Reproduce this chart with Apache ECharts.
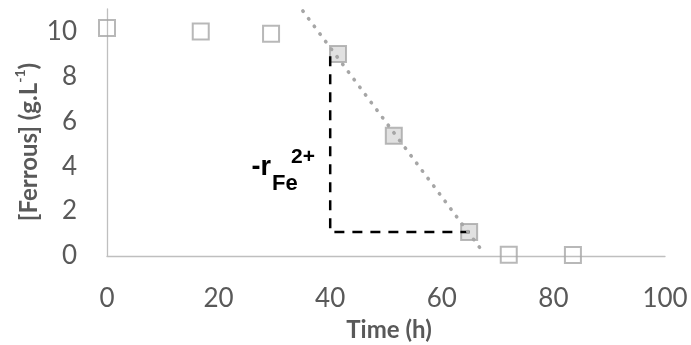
<!DOCTYPE html>
<html>
<head>
<meta charset="utf-8">
<script src="https://cdn.jsdelivr.net/npm/echarts@6/dist/echarts.min.js"></script>
<style>html,body{margin:0;padding:0;background:#fff;}#c{width:691px;height:345px;}</style>
</head>
<body>
<div id="c"></div>
<script>
// Data
const hollowTimes = [0, 16.8, 29.4, 72.0, 83.5];
const hollowFerrous = [10.15, 10.0, 9.9, 0.06, 0.05];
const fitTimes = [41.4, 51.4, 64.9];
const fitFerrous = [9.0, 5.35, 1.07];
const trendTimes = [35.1, 67.2];
const trendFerrous = [10.91, 0.24];
const rateTimes = [40, 40, 65];
const rateFerrous = [8.9, 1.07, 1.07];
const xAxisRange = [0, 100, 20];
const yAxisRange = [0, 11, 2];

const zip = (a, b) => a.map((v, i) => [v, b[i]]);
const gray = '#595959';
const tickFont = 'Lato, "Open Sans", sans-serif';
const narrow = '"Liberation Sans Narrow", "Liberation Sans", sans-serif';

const chart = echarts.init(document.getElementById('c'), null, {renderer: 'canvas'});
chart.setOption({
  animation: false,
  backgroundColor: '#fff',
  grid: {left: 107, right: 26, top: 9, bottom: 89, containLabel: false},
  xAxis: {
    type: 'value', min: xAxisRange[0], max: xAxisRange[1], interval: xAxisRange[2],
    axisLine: {show: true, lineStyle: {color: '#BFBFBF', width: 1.3}},
    axisTick: {show: false}, splitLine: {show: false},
    axisLabel: {color: gray, fontSize: 26, fontFamily: tickFont, margin: 30}
  },
  yAxis: {
    type: 'value', min: yAxisRange[0], max: yAxisRange[1], interval: yAxisRange[2],
    axisLine: {show: true, lineStyle: {color: '#BFBFBF', width: 1.3}},
    axisTick: {show: false}, splitLine: {show: false},
    axisLabel: {color: gray, fontSize: 26, fontFamily: tickFont, margin: 30, showMaxLabel: false}
  },
  series: [
    {
      type: 'scatter', symbol: 'rect', symbolSize: 16, z: 2,
      data: zip(hollowTimes, hollowFerrous),
      itemStyle: {color: 'rgba(0,0,0,0)', borderColor: '#A6A6A6', borderWidth: 2}
    },
    {
      type: 'scatter', symbol: 'rect', symbolSize: 16, z: 2,
      data: zip(fitTimes, fitFerrous),
      itemStyle: {color: '#D9D9D9', borderColor: '#A6A6A6', borderWidth: 2}
    },
    {
      type: 'line', showSymbol: false, z: 4,
      data: zip(trendTimes, trendFerrous),
      lineStyle: {color: '#A6A6A6', width: 3.6, type: [0.5, 9], cap: 'round'}
    },
    {
      type: 'line', showSymbol: false, z: 3,
      data: zip(rateTimes, rateFerrous),
      lineStyle: {color: '#000', width: 2.5, type: [10, 8], cap: 'butt'}
    }
  ],
  graphic: [
    {
      type: 'text', x: 27, y: 142, rotation: Math.PI / 2,
      style: {
        text: '{t|[Ferrous] (g.L}{s|-1}{t|)}',
        align: 'center', verticalAlign: 'middle',
        rich: {
          t: {fontSize: 24, fontWeight: 'bold', fill: gray, fontFamily: tickFont, lineHeight: 28, verticalAlign: 'bottom'},
          s: {fontSize: 14, fontWeight: 'bold', fill: gray, fontFamily: tickFont, lineHeight: 28, verticalAlign: 'top'}
        }
      }
    },
    {
      type: 'text', x: 389, y: 330,
      style: {text: 'Time (h)', align: 'center', verticalAlign: 'middle', fontSize: 24, fontWeight: 'bold', fill: gray, fontFamily: tickFont}
    },
    {
      type: 'text', x: 271, y: 181,
      style: {text: '-r', align: 'right', verticalAlign: 'bottom', fontSize: 27, fontWeight: 'bold', fill: '#000', fontFamily: narrow}
    },
    {
      type: 'text', x: 272, y: 195,
      style: {text: 'Fe', align: 'left', verticalAlign: 'bottom', fontSize: 22, fontWeight: 'bold', fill: '#000', fontFamily: narrow}
    },
    {
      type: 'text', x: 291, y: 168,
      style: {text: '2+', align: 'left', verticalAlign: 'bottom', fontSize: 21, fontWeight: 'bold', fill: '#000', fontFamily: narrow}
    }
  ]
});
</script>
</body>
</html>
